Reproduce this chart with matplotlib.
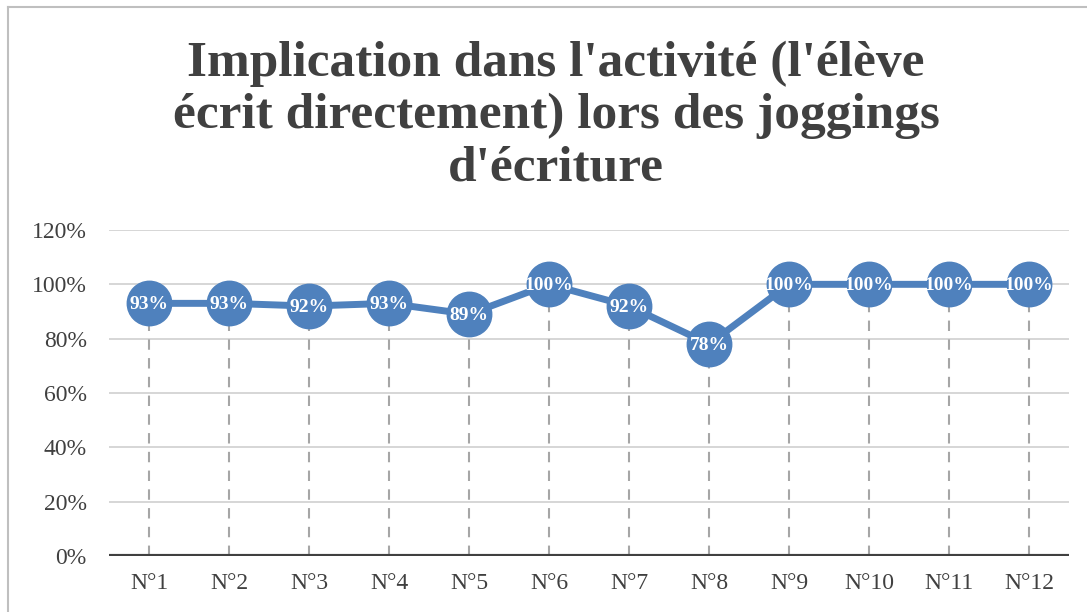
import matplotlib
matplotlib.use("Agg")
import matplotlib.pyplot as plt
from matplotlib.lines import Line2D
from matplotlib.ticker import FuncFormatter

categories = ["N°1", "N°2", "N°3", "N°4", "N°5", "N°6",
              "N°7", "N°8", "N°9", "N°10", "N°11", "N°12"]
values = [0.93, 0.93, 0.92, 0.93, 0.89, 1.00, 0.92, 0.78, 1.00, 1.00, 1.00, 1.00]
yticks = [0.0, 0.2, 0.4, 0.6, 0.8, 1.0, 1.2]
title = "Implication dans l'activité (l'élève\nécrit directement) lors des joggings\nd'écriture"

BLUE = "#4F81BD"
TXT = "#404040"
SERIF = ["Liberation Serif", "DejaVu Serif"]

plt.rcParams["font.family"] = SERIF

fig = plt.figure(figsize=(10.87, 6.12), dpi=100)
fig.patch.set_facecolor("white")
ax = fig.add_axes([109 / 1087, 1 - 556 / 612, 960 / 1087, 326 / 612])

x = list(range(len(categories)))

# grid + drop lines
for t in yticks[1:]:
    ax.axhline(t, color="#CFCFCF", lw=1.2, zorder=0)
ax.vlines(x, 0, values, colors="#A6A6A6", linestyles=(0, (5, 4)), lw=1.5, zorder=1)
ax.axhline(0, color="#404040", lw=3, zorder=2)

ax.plot(x, values, color=BLUE, lw=5, marker="o", markersize=32,
        markerfacecolor=BLUE, markeredgecolor=BLUE, zorder=3)
for xi, v in zip(x, values):
    ax.text(xi, v - 0.005, f"{v * 100:.0f}%", ha="center", va="center",
            color="white", fontsize=14, fontweight="bold", zorder=4)

ax.set_xlim(-0.5, len(categories) - 0.5)
ax.set_ylim(0, 1.2)
ax.set_yticks(yticks)
ax.yaxis.set_major_formatter(FuncFormatter(lambda v, _: f"{v * 100:.0f}%"))
ax.set_xticks(x)
ax.set_xticklabels(categories)
ax.tick_params(axis="both", length=0, labelsize=17, colors=TXT)
ax.tick_params(axis="x", pad=12)
ax.tick_params(axis="y", pad=16)
for s in ax.spines.values():
    s.set_visible(False)

fig.text(556 / 1087, 1 - 116 / 612, title, ha="center", va="center",
         fontsize=37, fontweight="bold", color=TXT, linespacing=1.18)

# outer chart border (top and left visible)
fig.add_artist(Line2D([8 / 1087, 1], [1 - 7 / 612, 1 - 7 / 612], color="#BFBFBF", lw=1.5))
fig.add_artist(Line2D([8 / 1087, 8 / 1087], [0, 1 - 7 / 612], color="#BFBFBF", lw=1.5))

fig.savefig("out.png", dpi=100)
